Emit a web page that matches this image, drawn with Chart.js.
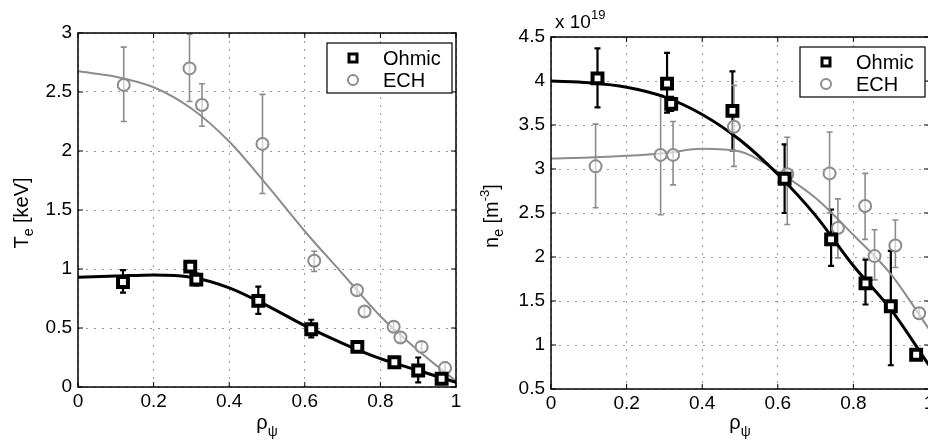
<!DOCTYPE html>
<html lang="en">

<head>
    <title>Te and ne profiles, Ohmic vs ECH</title>
    <script src="https://cdn.jsdelivr.net/npm/chart.js"></script>
    <style>
        body { margin: 0; width: 928px; height: 444px; overflow: hidden; background: #fff; position: relative; }
        .panel { position: absolute; top: 0; width: 470px; height: 444px; }
    </style>
</head>

<body>
    <div class="panel" style="left:0"><canvas id="teChart" width="470" height="444"></canvas></div>
    <div class="panel" style="left:470px"><canvas id="neChart" width="470" height="444"></canvas></div>

    <script type="text/javascript">

        // ---- data ----
        const fitRho = [0, 0.1, 0.2, 0.3, 0.4, 0.5, 0.6, 0.7, 0.8, 0.9, 1.0];

        // left panel: Te [keV]
        const teOhmicRho = [0.119, 0.297, 0.313, 0.477, 0.617, 0.739, 0.837, 0.900, 0.962];
        const teOhmic = [0.89, 1.02, 0.91, 0.73, 0.49, 0.34, 0.21, 0.14, 0.07];
        const teOhmicLo = [0.80, 0.98, 0.86, 0.62, 0.42, 0.32, 0.19, 0.04, 0.05];
        const teOhmicHi = [0.99, 1.05, 0.96, 0.85, 0.57, 0.36, 0.23, 0.25, 0.09];
        const teEchRho = [0.121, 0.295, 0.328, 0.488, 0.625, 0.738, 0.758, 0.835, 0.853, 0.909, 0.971];
        const teEch = [2.56, 2.70, 2.39, 2.06, 1.07, 0.82, 0.64, 0.51, 0.42, 0.34, 0.16];
        const teEchLo = [2.25, 2.42, 2.21, 1.64, 0.98, 0.78, 0.60, 0.47, 0.38, 0.30, 0.11];
        const teEchHi = [2.88, 2.99, 2.57, 2.48, 1.15, 0.86, 0.68, 0.55, 0.46, 0.38, 0.21];
        const teOhmicFit = [0.93, 0.94, 0.95, 0.93, 0.84, 0.69, 0.52, 0.37, 0.24, 0.14, 0.04];
        const teEchFit = [2.675, 2.63, 2.54, 2.36, 2.08, 1.71, 1.32, 0.96, 0.60, 0.31, 0.05];

        // right panel: ne [1e19 m^-3]
        const neOhmicRho = [0.123, 0.307, 0.318, 0.480, 0.618, 0.741, 0.832, 0.899, 0.966];
        const neOhmic = [4.03, 3.97, 3.74, 3.66, 2.89, 2.20, 1.70, 1.44, 0.89];
        const neOhmicLo = [3.70, 3.64, 3.66, 3.21, 2.50, 1.90, 1.46, 0.77, 0.84];
        const neOhmicHi = [4.37, 4.32, 3.82, 4.11, 3.28, 2.54, 1.97, 2.07, 0.94];
        const neEchRho = [0.118, 0.290, 0.323, 0.484, 0.625, 0.737, 0.759, 0.831, 0.856, 0.911, 0.974];
        const neEch = [3.03, 3.16, 3.16, 3.48, 2.94, 2.95, 2.33, 2.58, 2.01, 2.13, 1.36];
        const neEchLo = [2.56, 2.48, 2.82, 3.03, 2.37, 2.50, 1.99, 2.20, 1.74, 1.88, 1.30];
        const neEchHi = [3.51, 3.84, 3.54, 3.95, 3.36, 3.42, 2.66, 2.95, 2.31, 2.42, 1.42];
        const neOhmicFit = [4.00, 3.98, 3.93, 3.82, 3.62, 3.33, 2.94, 2.47, 1.90, 1.40, 0.77];
        const neEchFit = [3.12, 3.13, 3.15, 3.18, 3.23, 3.20, 2.97, 2.67, 2.25, 1.80, 1.18];

        const seriesNames = ['Ohmic', 'ECH'];

        const FONT = '"Liberation Sans", Arial, Helvetica, sans-serif';
        const GRAY = '#8c8c8c';
        Chart.defaults.font.family = FONT;
        Chart.defaults.color = '#000';

        const pts = (xs, ys) => xs.map((x, i) => ({ x: x, y: ys[i] }));

        // draws text made of pieces [text, size, dy] (for sub/superscripts)
        function rich(ctx, parts, x, y, align) {
            let w = 0;
            parts.forEach(p => { ctx.font = p[1] + 'px ' + FONT; w += ctx.measureText(p[0]).width; });
            let cx = align === 'left' ? x : x - w / 2;
            parts.forEach(p => {
                ctx.font = p[1] + 'px ' + FONT;
                ctx.fillText(p[0], cx, y + p[2]);
                cx += ctx.measureText(p[0]).width;
            });
        }

        const errorBars = {
            id: 'errorBars',
            beforeDatasetsDraw(chart) {
                const { ctx, chartArea } = chart;
                ctx.save();
                ctx.beginPath();
                ctx.rect(chartArea.left, chartArea.top, chartArea.width, chartArea.height);
                ctx.clip();
                chart.data.datasets.forEach(ds => {
                    if (!ds.errLo) return;
                    const xs = chart.scales.x, ys = chart.scales.y;
                    ctx.strokeStyle = ds.borderColor;
                    ctx.lineWidth = ds.errWidth;
                    ctx.beginPath();
                    ds.data.forEach((p, i) => {
                        const px = xs.getPixelForValue(p.x);
                        const lo = ys.getPixelForValue(ds.errLo[i]);
                        const hi = ys.getPixelForValue(ds.errHi[i]);
                        ctx.moveTo(px, lo); ctx.lineTo(px, hi);
                        ctx.moveTo(px - 3, lo); ctx.lineTo(px + 3, lo);
                        ctx.moveTo(px - 3, hi); ctx.lineTo(px + 3, hi);
                    });
                    ctx.stroke();
                });
                ctx.restore();
            }
        };

        const frame = {
            id: 'frame',
            afterDraw(chart, args, opts) {
                const { ctx, chartArea: { left, top, right, bottom } } = chart;
                const xs = chart.scales.x, ys = chart.scales.y;
                ctx.save();
                ctx.strokeStyle = '#000';
                ctx.lineWidth = 1.5;
                ctx.strokeRect(left, top, right - left, bottom - top);

                // inward ticks on all four sides
                ctx.lineWidth = 1;
                ctx.beginPath();
                xs.ticks.forEach(t => {
                    const p = xs.getPixelForValue(t.value);
                    ctx.moveTo(p, bottom); ctx.lineTo(p, bottom - 5);
                    ctx.moveTo(p, top); ctx.lineTo(p, top + 5);
                });
                ys.ticks.forEach(t => {
                    const p = ys.getPixelForValue(t.value);
                    ctx.moveTo(left, p); ctx.lineTo(left + 5, p);
                    ctx.moveTo(right, p); ctx.lineTo(right - 5, p);
                });
                ctx.stroke();

                // legend box
                const lw = 125, lh = 50;
                const lx = right - 4 - lw, ly = top + 10;
                ctx.fillStyle = '#fff';
                ctx.fillRect(lx, ly, lw, lh);
                ctx.lineWidth = 1.2;
                ctx.strokeRect(lx, ly, lw, lh);
                ctx.lineWidth = 3;
                ctx.strokeStyle = '#000';
                ctx.strokeRect(lx + 22, ly + 11, 8, 8);
                ctx.lineWidth = 2;
                ctx.strokeStyle = GRAY;
                ctx.beginPath();
                ctx.arc(lx + 26, ly + 37, 5, 0, Math.PI * 2);
                ctx.stroke();
                ctx.fillStyle = '#000';
                ctx.font = '20px ' + FONT;
                ctx.textBaseline = 'alphabetic';
                ctx.fillText(seriesNames[0], lx + 56, ly + 22);
                ctx.fillText(seriesNames[1], lx + 56, ly + 44);

                // axis titles
                rich(ctx, opts.xTitle, (left + right) / 2, 429);
                if (opts.exponent) rich(ctx, opts.exponent, left + 4, 28, 'left');
                ctx.translate(opts.yTitleX, (top + bottom) / 2 + 3);
                ctx.rotate(-Math.PI / 2);
                rich(ctx, opts.yTitle, 0, 0);
                ctx.restore();
            }
        };

        function axisOpts(min, max, step, fixed, isX) {
            return {
                type: 'linear',
                min: min,
                max: max,
                ticks: {
                    stepSize: step,
                    font: { size: 19 },
                    padding: isX ? 3 : 6,
                    color: '#000',
                    callback: v => String(+v.toFixed(2))
                },
                grid: { color: '#9a9a9a', lineWidth: 1, drawTicks: false },
                border: { display: false, dash: [2, 6] },
                afterFit(scale) {
                    if (isX) scale.height = fixed; else scale.width = fixed;
                }
            };
        }

        function makePanel(id, d, box, plotOpts) {
            new Chart(document.getElementById(id), {
                type: 'scatter',
                data: {
                    datasets: [{
                        data: pts(d.ohmicRho, d.ohmic),
                        errLo: d.ohmicLo, errHi: d.ohmicHi, errWidth: 2.2,
                        pointStyle: 'rect', pointRadius: 7,
                        borderColor: '#000', borderWidth: 4, backgroundColor: '#fff'
                    }, {
                        data: pts(d.echRho, d.ech),
                        errLo: d.echLo, errHi: d.echHi, errWidth: 1.6,
                        pointStyle: 'circle', pointRadius: 6,
                        borderColor: GRAY, borderWidth: 2, backgroundColor: 'rgba(255,255,255,0.6)'
                    }, {
                        type: 'line',
                        data: pts(fitRho, d.ohmicFit),
                        borderColor: '#000', borderWidth: 3, pointRadius: 0,
                        cubicInterpolationMode: 'monotone', fill: false
                    }, {
                        type: 'line',
                        data: pts(fitRho, d.echFit),
                        borderColor: GRAY, borderWidth: 2, pointRadius: 0,
                        cubicInterpolationMode: 'monotone', fill: false
                    }]
                },
                options: {
                    responsive: false,
                    animation: false,
                    layout: { padding: { left: 0, top: box.top, right: box.right, bottom: 0 } },
                    scales: {
                        x: axisOpts(0, 1, 0.2, box.xh, true),
                        y: axisOpts(box.ymin, box.ymax, 0.5, box.yw, false)
                    },
                    plugins: {
                        legend: { display: false },
                        tooltip: { enabled: false },
                        frame: plotOpts
                    }
                },
                plugins: [errorBars, frame]
            });
        }

        makePanel('teChart', {
            ohmicRho: teOhmicRho, ohmic: teOhmic, ohmicLo: teOhmicLo, ohmicHi: teOhmicHi,
            echRho: teEchRho, ech: teEch, echLo: teEchLo, echHi: teEchHi,
            ohmicFit: teOhmicFit, echFit: teEchFit
        }, { top: 33, right: 14, yw: 78, xh: 57, ymin: 0, ymax: 3 }, {
            xTitle: [['ρ', 20, 0], ['ψ', 14, 7]],
            yTitle: [['T', 20, 0], ['e', 14, 5], [' [keV]', 20, 0]],
            yTitleX: 28
        });

        makePanel('neChart', {
            ohmicRho: neOhmicRho, ohmic: neOhmic, ohmicLo: neOhmicLo, ohmicHi: neOhmicHi,
            echRho: neEchRho, ech: neEch, echLo: neEchLo, echHi: neEchHi,
            ohmicFit: neOhmicFit, echFit: neEchFit
        }, { top: 37, right: 10, yw: 81, xh: 55, ymin: 0.5, ymax: 4.5 }, {
            xTitle: [['ρ', 20, 0], ['ψ', 14, 7]],
            yTitle: [['n', 20, 0], ['e', 14, 5], [' [m', 20, 0], ['-3', 13, -9], [']', 20, 0]],
            yTitleX: 28,
            exponent: [['x 10', 19, 0], ['19', 13, -9]]
        });
    </script>
</body>

</html>
